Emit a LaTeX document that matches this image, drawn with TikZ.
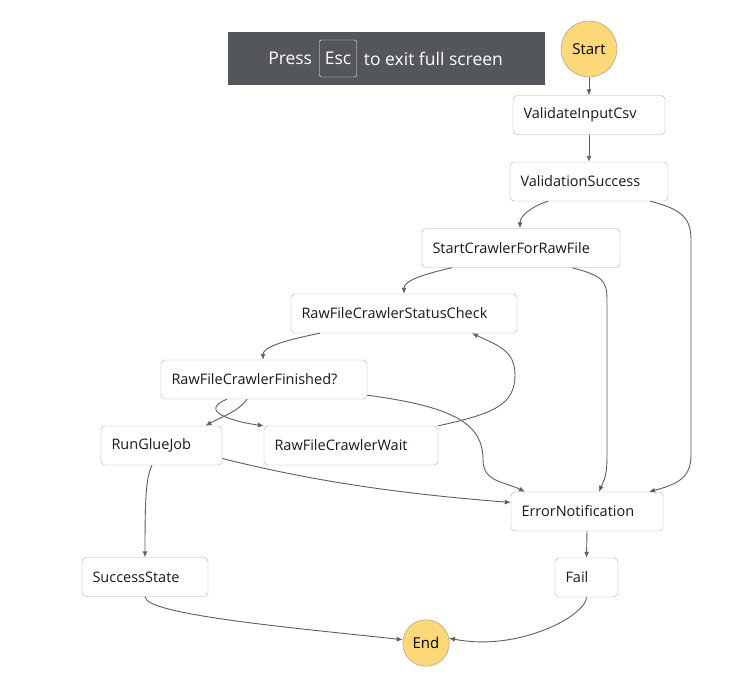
\documentclass[tikz,border=0pt]{standalone}
\usepackage{fontspec}
\setmainfont{Open Sans}
\usetikzlibrary{arrows.meta,positioning}

\definecolor{bannergray}{HTML}{53565B}
\definecolor{stateyellow}{HTML}{FDD878}
\definecolor{boxline}{HTML}{ABABAB}
\definecolor{edgegray}{HTML}{5F5F5F}
\definecolor{labeltext}{HTML}{16191F}

\tikzset{
    state/.style={draw=boxline, fill=white, rounded corners=4pt, minimum height=39pt,
        inner xsep=10.5pt, inner ysep=0pt, align=left, text=labeltext,
        font=\fontsize{14.5}{16}\selectfont},
    terminal/.style={circle, draw=gray!85, fill=stateyellow, inner sep=0pt, text=black,
        font=\fontsize{15}{17}\selectfont},
    flow/.style={draw=edgegray, line width=0.9pt, -{Latex[length=6pt,width=5pt]}},
}

\begin{document}
\begin{tikzpicture}[x=1pt, y=1pt]
    \fill[white] (0,0) rectangle (745,-699);
    \useasboundingbox (0,0) rectangle (745,-699);

    % full screen banner
    \node[fill=bannergray, minimum width=317pt, minimum height=53pt, inner sep=0pt] (banner) at (386.5,-58.5) {};
    \node[draw=white, rounded corners=2pt, minimum width=37pt, minimum height=37pt, inner sep=0pt, text=white,
        font=\fontsize{17.5}{19}\selectfont] (esckey) at (338,-58.5) {Esc};
    \node[left=7pt of esckey, inner sep=0pt, text=white, font=\fontsize{17.5}{19}\selectfont] (press) {Press};
    \node[right=7pt of esckey, inner sep=0pt, text=white, font=\fontsize{17.5}{19}\selectfont] (exitmsg) {to exit full screen};

    % states
    \node[terminal, minimum size=56pt] (start) at (589,-49) {Start};
    \node[state, text width=131pt] (validate) at (589,-115) {ValidateInputCsv};
    \node[state, text width=137pt] (vsuccess) at (589,-181.5) {ValidationSuccess};
    \node[state, text width=177pt] (startcrawler) at (521,-248) {StartCrawlerForRawFile};
    \node[state, text width=205pt] (statuscheck) at (404,-313.5) {RawFileCrawlerStatusCheck};
    \node[state, text width=185pt] (finished) at (264,-379.5) {RawFileCrawlerFinished?};
    \node[state, text width=100pt] (runglue) at (161.5,-445.5) {RunGlueJob};
    \node[state, text width=153pt] (wait) at (351,-445.5) {RawFileCrawlerWait};
    \node[state, text width=131pt] (errornot) at (587,-511.5) {ErrorNotification};
    \node[state, text width=105pt] (success) at (145,-577) {SuccessState};
    \node[state, text width=42pt] (fail) at (586.5,-577.5) {Fail};
    \node[terminal, minimum size=46.5pt] (end) at (426,-643) {End};

    % transitions
    \draw[flow] (start) -- (validate);
    \draw[flow] (validate) -- (vsuccess);
    \draw[flow] ([xshift=-41pt]vsuccess.south) .. controls +(-18,-6) and +(0,12) .. ([xshift=-1pt]startcrawler.north);
    \draw[flow] ([xshift=61pt]vsuccess.south) .. controls +(32,-8) and +(0,22) .. (691,-240) -- (691,-455)
        .. controls +(0,-22) and +(30,8) .. ([xshift=62pt]errornot.north);
    \draw[flow] ([xshift=51pt]startcrawler.south) .. controls +(30,-8) and +(0,20) .. (607,-300) -- (607,-455)
        .. controls +(0,-20) and +(6,14) .. ([xshift=12pt]errornot.north);
    \draw[flow] ([xshift=-69pt]startcrawler.south) .. controls +(-35,-8) and +(0,12) .. (statuscheck.north);
    \draw[flow] ([xshift=-84pt]statuscheck.south) .. controls +(-40,-8) and +(0,12) .. ([xshift=-1pt]finished.north);
    \draw[flow] ([xshift=-17pt]finished.south) .. controls +(-8,-12) and +(14,8) .. ([xshift=44pt]runglue.north);
    \draw[flow] ([xshift=-37pt]finished.south) .. controls +(-30,-12) and +(-30,4) .. (wait.north west);
    \draw[flow] (wait.north east) .. controls +(55,12) and +(0,-30) .. (515,-375)
        .. controls +(0,25) and +(25,-12) .. ([xshift=68pt]statuscheck.south);
    \draw[flow] ([yshift=4pt]finished.south east) .. controls +(90,-12) and +(0,35) .. (483,-460)
        .. controls +(0,-22) and +(-20,10) .. ([xshift=-62pt]errornot.north);
    \draw[flow] ([yshift=-13pt]runglue.east) .. controls +(100,-25) and +(-100,8) .. ([yshift=9pt]errornot.west);
    \draw[flow] (errornot.south) -- (fail.north);
    \draw[flow] (fail.south) .. controls +(0,-18) and +(70,-14) .. (end.12);
    \draw[flow] ([xshift=-9.5pt]runglue.south) .. controls +(-6,-12) and +(0,60) .. (success.north);
    \draw[flow] (success.south) .. controls +(0,-18) and +(-110,12) .. (end.172);
\end{tikzpicture}
\end{document}
